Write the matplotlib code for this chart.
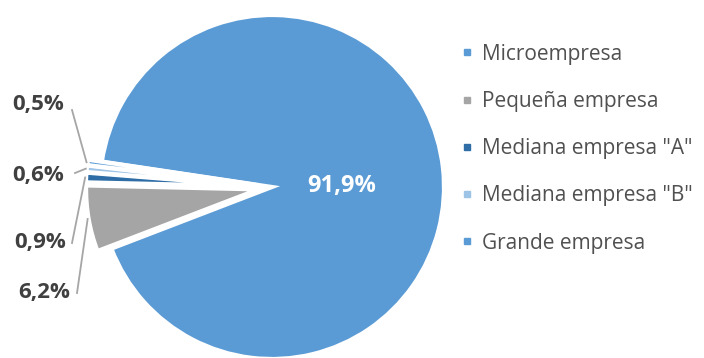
import numpy as np
import matplotlib.pyplot as plt
from matplotlib.lines import Line2D

plt.rcParams['font.family'] = ['Open Sans', 'DejaVu Sans']

# Distribución de empresas por tamaño (%)
categorias = ['Microempresa', 'Pequeña empresa', 'Mediana empresa "A"',
              'Mediana empresa "B"', 'Grande empresa']
valores = [91.9, 6.2, 0.9, 0.6, 0.5]
etiquetas = ['91,9%', '6,2%', '0,9%', '0,6%', '0,5%']
colores = ['#5B9BD5', '#A5A5A5', '#2E6DA6', '#9DC3E6', '#5B9BD5']

fig = plt.figure(figsize=(7.04, 3.58), dpi=100)
ax = fig.add_axes([0, 0, 1, 1])

# el eje trabaja en píxeles (y hacia arriba)
cx, cy, r = 272, 171, 172
explode = [0] + [0.082 * r] * 4
wedges, _ = ax.pie(valores, colors=colores, startangle=171.5, counterclock=False,
                   explode=explode, center=(cx, cy), radius=r, normalize=True,
                   wedgeprops=dict(edgecolor='white', linewidth=3))
# pie() fija sus propios límites: se reponen
ax.set_xlim(0, 704)
ax.set_ylim(0, 358)
ax.set_aspect('equal')
ax.axis('off')

ax.text(342, 166, etiquetas[0], color='white', fontsize=17, fontweight='bold',
        ha='center', va='baseline')

# posiciones de las etiquetas pequeñas (izq.) y arranque del conector
txt_pos = {1: (44, 60), 2: (40, 110), 3: (38, 177), 4: (38, 248)}
line_start = {1: (77, 65), 2: (72, 115), 3: (75, 185), 4: (72, 248)}
for i in range(1, 5):
    w = wedges[i]
    ang = np.deg2rad((w.theta1 + w.theta2) / 2)
    x0, y0 = w.center
    px = x0 + (w.r + 1) * np.cos(ang)
    py = y0 + (w.r + 1) * np.sin(ang)
    ax.text(*txt_pos[i], etiquetas[i], color='#404040', fontsize=16,
            fontweight='bold', ha='center', va='baseline')
    ax.plot([line_start[i][0], px], [line_start[i][1], py], color='#A6A6A6', lw=1.3)

handles = [Line2D([], [], marker='s', linestyle='none', markersize=5,
                  markerfacecolor=c, markeredgecolor=c) for c in colores]
ax.legend(handles, categorias, loc='upper left', bbox_to_anchor=(440, 333),
          bbox_transform=ax.transData, frameon=False, fontsize=15,
          labelspacing=1.26, handletextpad=0.3, handlelength=0.8,
          labelcolor='#505050')

fig.savefig('out.png', dpi=100)
